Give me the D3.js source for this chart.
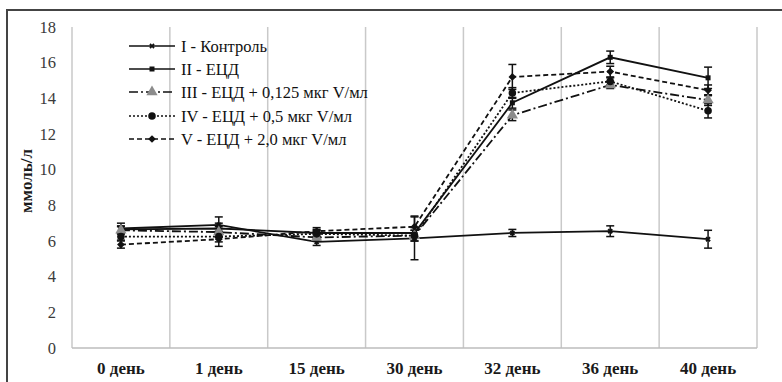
<!DOCTYPE html>
<html><head><meta charset="utf-8">
<script src="https://cdn.jsdelivr.net/npm/d3@7"></script>
<style>body{margin:0;background:#fff}svg{display:block}svg text{font-family:"Liberation Serif","DejaVu Serif",serif}</style>
</head><body>
<svg id="c" width="782" height="382"></svg>
<script>
const categories = ["0 день","1 день","15 день","30 день","32 день","36 день","40 день"];
const yTicks = [0,2,4,6,8,10,12,14,16,18];
const seriesNames = ["I - Контроль","II - ЕЦД","III - ЕЦД + 0,125 мкг V/мл","IV - ЕЦД + 0,5 мкг V/мл","V - ЕЦД + 2,0 мкг V/мл"];
const s1 = [6.7, 6.9, 5.95, 6.15, 6.45, 6.55, 6.1];
const e1 = [0.3, 0.45, 0.2, 1.2, 0.2, 0.3, 0.5];
const s2 = [6.65, 6.7, 6.45, 6.45, 13.75, 16.3, 15.15];
const e2 = [0.2, 0.3, 0.2, 0.3, 0.3, 0.35, 0.6];
const s3 = [6.6, 6.5, 6.2, 6.3, 13.05, 14.75, 13.9];
const e3 = [0.2, 0.3, 0.2, 0.3, 0.3, 0.2, 0.3];
const s4 = [6.25, 6.25, 6.4, 6.3, 14.3, 14.95, 13.3];
const e4 = [0.2, 0.3, 0.2, 0.3, 0.3, 0.2, 0.4];
const s5 = [5.8, 6.1, 6.55, 6.8, 15.2, 15.5, 14.45];
const e5 = [0.2, 0.4, 0.2, 0.6, 0.7, 0.3, 0.3];

const values = [s1,s2,s3,s4,s5];
const errors = [e1,e2,e3,e4,e5];
const styles = [
  {dash:null, sym:d3.symbolCross, rot:45, size:18, fill:"#111"},
  {dash:null, sym:d3.symbolSquare, rot:0, size:25, fill:"#111"},
  {dash:"9,3,2,3", sym:d3.symbolTriangle, rot:0, size:55, fill:"#8c8c8c"},
  {dash:"2,2", sym:d3.symbolCircle, rot:0, size:45, fill:"#111"},
  {dash:"5,3", sym:d3.symbolSquare, rot:45, size:30, fill:"#111"}
];

const svg = d3.select("#c");
const L=72, R=757, T=27, B=348;
const x = d3.scaleBand().domain(categories).range([L,R]);
const y = d3.scaleLinear().domain([0,18]).range([B,T]);

svg.append("path").attr("d",`M7,382 V10 H782`).attr("fill","none").attr("stroke","#444").attr("stroke-width",2);

const bounds = categories.map(c=>x(c)).concat([R]);
svg.append("g").selectAll("line").data(bounds).join("line")
  .attr("x1",d=>d).attr("x2",d=>d).attr("y1",T).attr("y2",B)
  .attr("stroke","#c9c9c9").attr("stroke-width",1.5);
svg.append("line").attr("x1",L).attr("x2",R).attr("y1",B).attr("y2",B).attr("stroke","#bdbdbd").attr("stroke-width",1.5);

const ya = svg.append("g").attr("transform",`translate(${L-16},0)`)
  .call(d3.axisLeft(y).tickValues(yTicks).tickSize(0).tickPadding(0));
ya.select(".domain").remove();
ya.selectAll("text").attr("font-family",null).attr("font-size",16.5).attr("fill","#3a3a3a");

const xa = svg.append("g").attr("transform",`translate(0,${B})`)
  .call(d3.axisBottom(x).tickSize(0).tickPadding(14));
xa.select(".domain").remove();
xa.selectAll("text").attr("font-family",null).attr("font-size",17).attr("font-weight","bold").attr("fill","#1a1a1a");

svg.append("text").attr("transform",`translate(32,181) rotate(-90)`)
  .attr("text-anchor","middle").attr("font-size",17).attr("font-weight","bold")
  .attr("fill","#1a1a1a").text("ммоль/л");

const cx = c => x(c)+x.bandwidth()/2;
const line = d3.line().x((d,i)=>cx(categories[i])).y(d=>y(d));

values.forEach((vals,k)=>{
  svg.append("path").datum(vals).attr("d",line).attr("fill","none")
    .attr("stroke","#111").attr("stroke-width",1.8)
    .attr("stroke-dasharray",styles[k].dash);
});
values.forEach((vals,k)=>{
  const g = svg.append("g").attr("stroke","#111").attr("stroke-width",1.5);
  vals.forEach((v,i)=>{
    const X = cx(categories[i]), e = errors[k][i];
    g.append("line").attr("x1",X).attr("x2",X).attr("y1",y(v-e)).attr("y2",y(v+e));
    g.append("line").attr("x1",X-4).attr("x2",X+4).attr("y1",y(v-e)).attr("y2",y(v-e));
    g.append("line").attr("x1",X-4).attr("x2",X+4).attr("y1",y(v+e)).attr("y2",y(v+e));
  });
});
values.forEach((vals,k)=>{
  const st = styles[k];
  svg.append("g").selectAll("path").data(vals).join("path")
    .attr("d",d3.symbol().type(st.sym).size(st.size))
    .attr("transform",(d,i)=>`translate(${cx(categories[i])},${y(d)}) rotate(${st.rot})`)
    .attr("fill",st.fill);
});

const lg = svg.append("g");
const rowsY = [46,69,92,116,139];
seriesNames.forEach((n,k)=>{
  const st = styles[k], yy = rowsY[k];
  lg.append("line").attr("x1",129).attr("x2",175).attr("y1",yy).attr("y2",yy)
    .attr("stroke","#111").attr("stroke-width",1.6).attr("stroke-dasharray",st.dash);
  lg.append("path").attr("d",d3.symbol().type(st.sym).size(st.size))
    .attr("transform",`translate(152,${yy}) rotate(${st.rot})`)
    .attr("fill",st.fill);
  lg.append("text").attr("x",181).attr("y",yy+5.5).attr("font-size",16.5)
    .attr("fill","#111").text(n);
});
</script>
</body></html>
